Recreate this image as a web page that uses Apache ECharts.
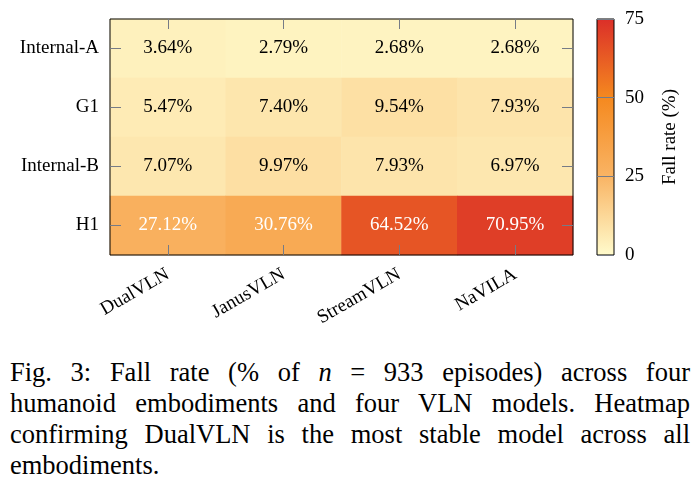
<!DOCTYPE html>
<html>
<head>
<meta charset="utf-8">
<script src="https://cdn.jsdelivr.net/npm/echarts@6/dist/echarts.min.js"></script>
<style>
  html, body { margin: 0; padding: 0; background: #fff; }
  #chart { position: absolute; left: 0; top: 0; width: 698px; height: 340px; }
  #caption {
    position: absolute; left: 10px; top: 357px; width: 680px;
    font-family: "Liberation Serif", "Times New Roman", Times, serif;
    font-size: 26.5px; line-height: 31px; color: #000;
  }
  #caption div { text-align: justify; text-align-last: justify; white-space: nowrap; }
  #caption div.last { text-align-last: left; }
</style>
</head>
<body>
<div id="chart"></div>
<div id="caption">
  <div>Fig. 3: Fall rate (% of <i>n</i> = 933 episodes) across four</div>
  <div>humanoid embodiments and four VLN models. Heatmap</div>
  <div>confirming DualVLN is the most stable model across all</div>
  <div class="last">embodiments.</div>
</div>
<script>
// models (columns) and embodiments (rows, top to bottom)
var models = ['DualVLN', 'JanusVLN', 'StreamVLN', 'NaVILA'];
var embodiments = ['Internal-A', 'G1', 'Internal-B', 'H1'];

// fall rate (%) per embodiment, one entry per model
var internalA = [3.64, 2.79, 2.68, 2.68];
var g1        = [5.47, 7.40, 9.54, 7.93];
var internalB = [7.07, 9.97, 7.93, 6.97];
var h1        = [27.12, 30.76, 64.52, 70.95];

var barTicks = [0, 25, 50, 75];

var rows = [internalA, g1, internalB, h1];
var mapColors = ['#fffbcc', '#f9b464', '#f5891f', '#db2f29'];
var serif = '"Liberation Serif", "Times New Roman", serif';
var tickGray = '#767b86';

var cells = [];
for (var r = 0; r < rows.length; r++) {
  for (var c = 0; c < models.length; c++) {
    var v = rows[r][c];
    cells.push({
      value: [c, r, v],
      label: { color: v > 20 ? '#fff' : '#000' }
    });
  }
}

var chart = echarts.init(document.getElementById('chart'));

// ticks drawn inside, over the cells
function tick(len) {
  return { show: true, inside: true, alignWithLabel: true, length: len, lineStyle: { color: tickGray, width: 1 } };
}

var option = {
  animation: false,
  grid: [
    { left: 110, top: 19, width: 463, height: 236, show: true, z: 10, borderColor: '#000', borderWidth: 1, backgroundColor: 'transparent' },
    { left: 597, top: 19, width: 17, height: 236, show: true, z: 10, borderColor: '#000', borderWidth: 1, backgroundColor: 'transparent' }
  ],
  xAxis: [
    {
      type: 'category', gridIndex: 0, data: models, position: 'bottom', z: 10,
      axisLine: { show: false },
      axisTick: tick(10),
      axisLabel: { rotate: 30, margin: 18, fontFamily: serif, fontSize: 19, color: '#000' },
      splitLine: { show: false }
    },
    {
      type: 'category', gridIndex: 0, data: models, position: 'top', z: 10,
      axisLine: { show: false },
      axisTick: tick(10),
      axisLabel: { show: false }
    },
    {
      type: 'category', gridIndex: 1, data: [''],
      axisLine: { show: false }, axisTick: { show: false }, axisLabel: { show: false }
    }
  ],
  yAxis: [
    {
      type: 'category', gridIndex: 0, data: embodiments, inverse: true, position: 'left', z: 10,
      axisLine: { show: false },
      axisTick: tick(11),
      axisLabel: { margin: 11, fontFamily: serif, fontSize: 19, color: '#000' }
    },
    {
      type: 'category', gridIndex: 0, data: embodiments, inverse: true, position: 'right', z: 10,
      axisLine: { show: false },
      axisTick: tick(11),
      axisLabel: { show: false }
    },
    {
      type: 'value', gridIndex: 1, min: 0, max: 75, interval: 25, position: 'right', z: 10,
      name: 'Fall rate (%)', nameLocation: 'middle', nameRotate: 90, nameGap: 47,
      nameTextStyle: { fontFamily: serif, fontSize: 19, color: '#000' },
      axisLine: { show: false },
      axisTick: { show: true, inside: true, length: 17, lineStyle: { color: tickGray } },
      axisLabel: {
        margin: 11, fontFamily: serif, fontSize: 19, color: '#000',
        formatter: function (v) { return barTicks.indexOf(v) >= 0 ? String(v) : ''; }
      },
      splitLine: { show: false }
    }
  ],
  visualMap: {
    show: false, type: 'continuous', min: 0, max: 75, dimension: 2, seriesIndex: 0,
    inRange: { color: mapColors }
  },
  series: [
    {
      type: 'heatmap', xAxisIndex: 0, yAxisIndex: 0, data: cells,
      label: {
        show: true, fontFamily: serif, fontSize: 19,
        formatter: function (p) { return p.value[2].toFixed(2) + '%'; }
      },
      emphasis: { disabled: true },
      z: 1
    },
    {
      type: 'bar', xAxisIndex: 2, yAxisIndex: 2, data: [75], barWidth: '100%',
      silent: true, z: 1,
      itemStyle: {
        color: new echarts.graphic.LinearGradient(0, 1, 0, 0, mapColors.map(function (col, i) {
          return { offset: i / (mapColors.length - 1), color: col };
        }))
      }
    }
  ]
};

chart.setOption(option);
</script>
</body>
</html>
